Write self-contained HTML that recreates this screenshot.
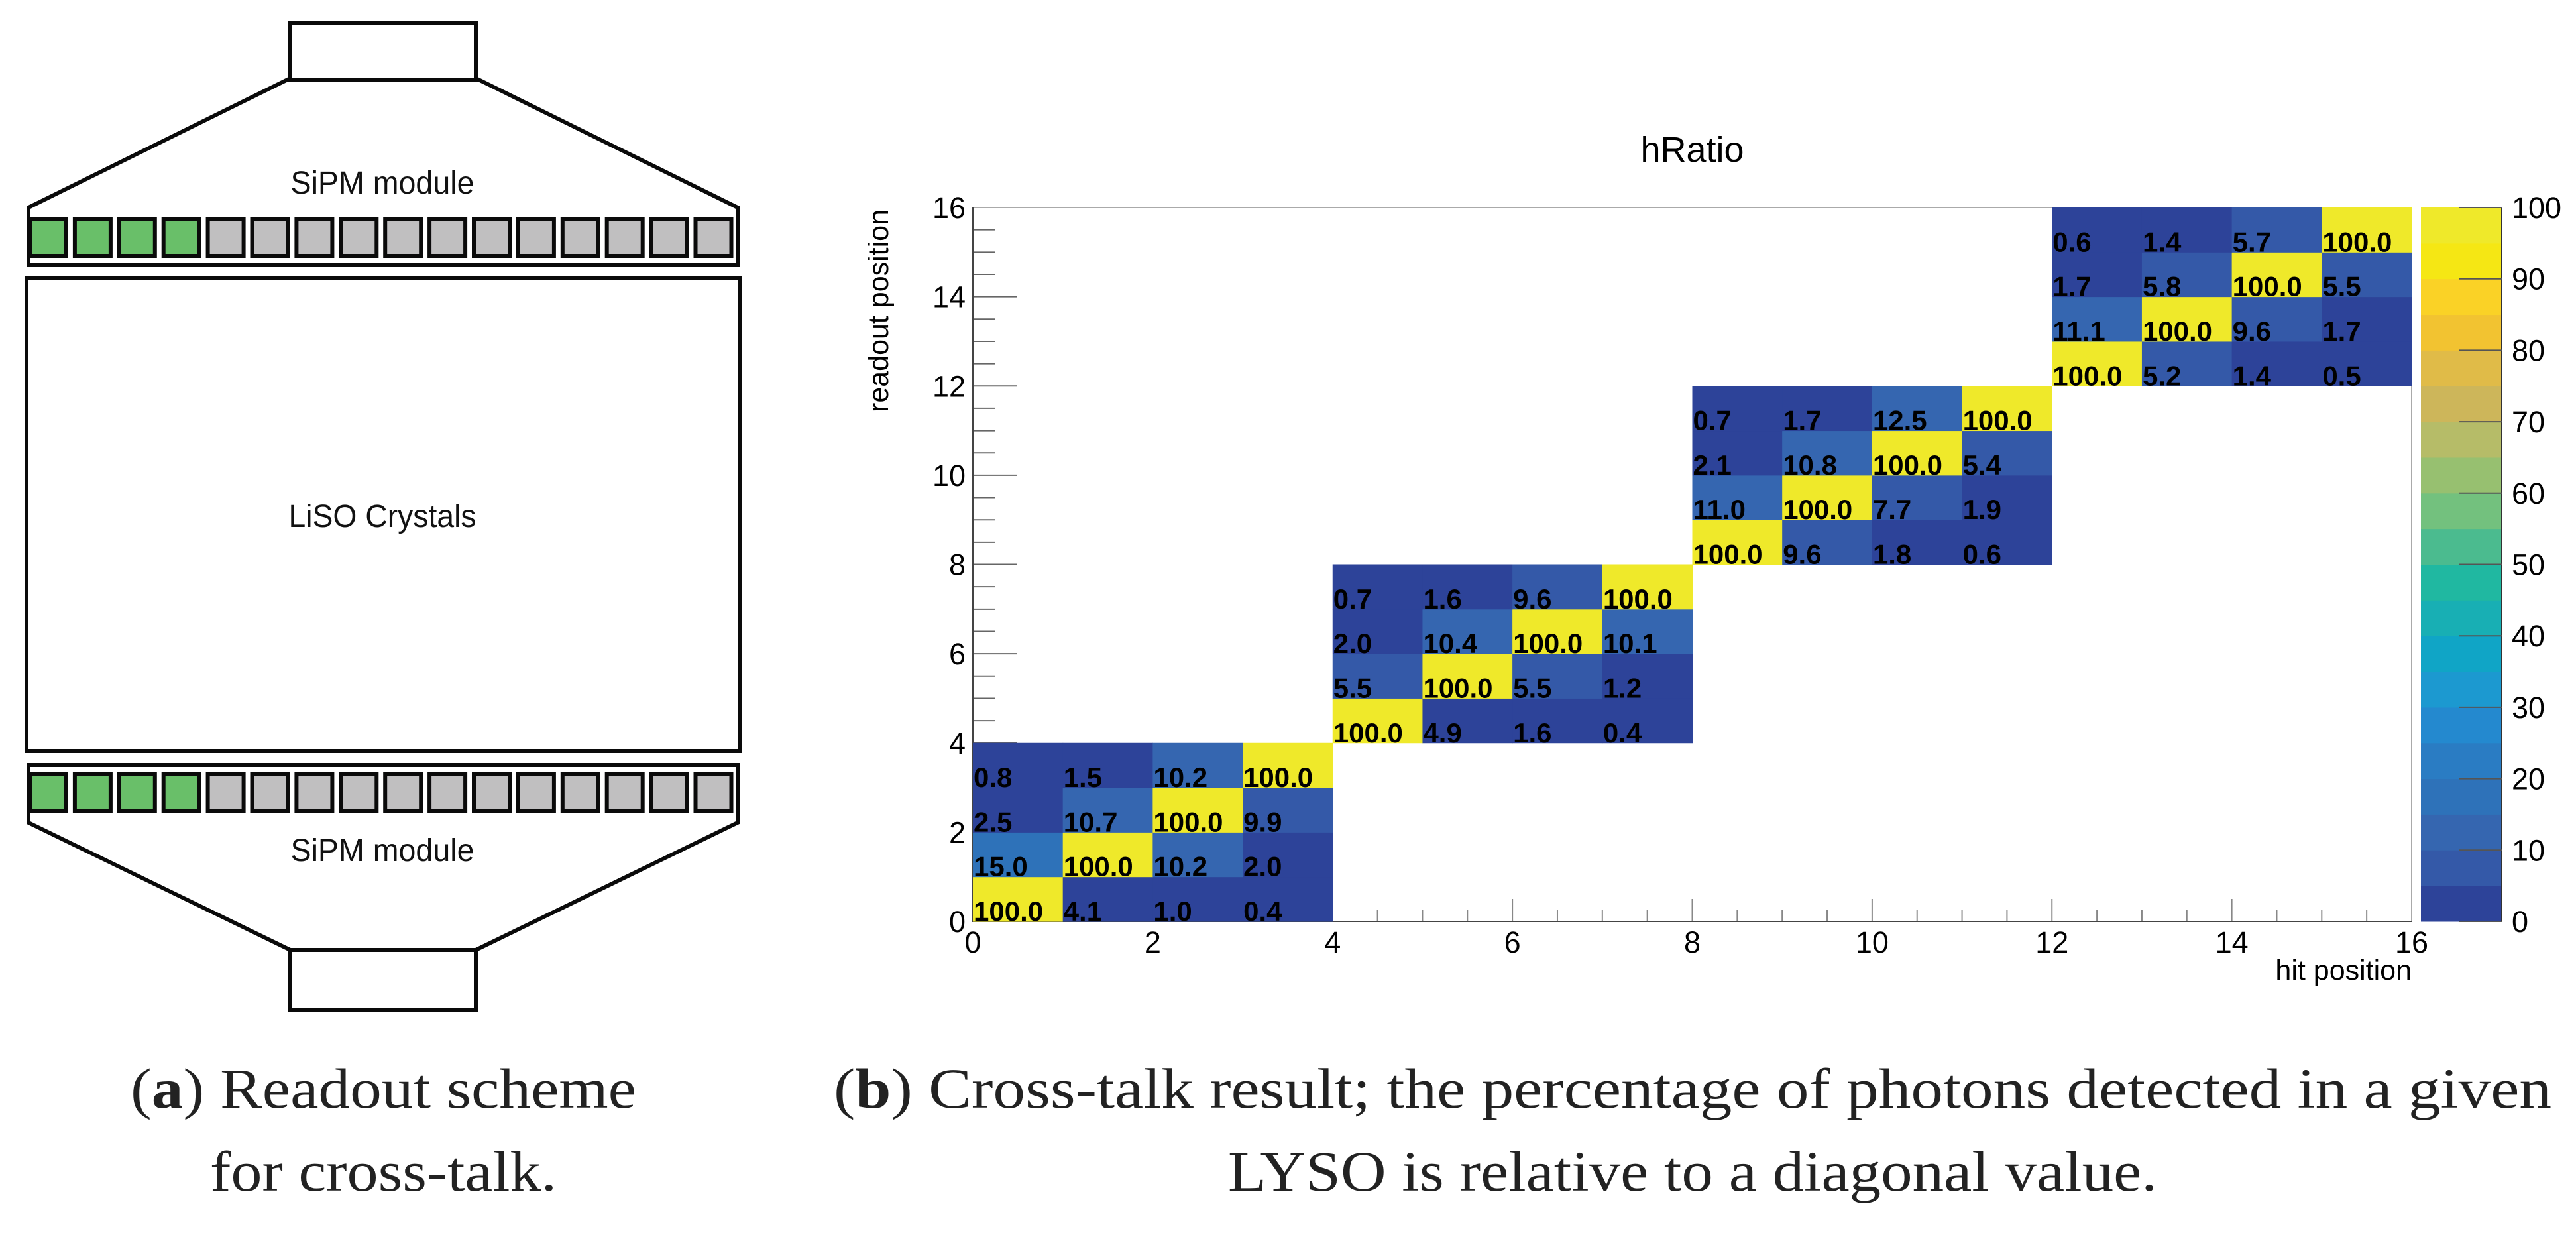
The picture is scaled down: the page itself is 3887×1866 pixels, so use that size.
<!DOCTYPE html>
<html><head><meta charset="utf-8"><style>
html,body{margin:0;padding:0;background:#fff;}
svg{display:block;}
</style></head><body>
<svg id="fig" width="3887" height="1866" viewBox="0 0 3887 1866" xmlns="http://www.w3.org/2000/svg">
<rect x="0" y="0" width="3887" height="1866" fill="#fff"/>
<g fill="none" stroke="#0a0a0a" stroke-width="6">
  <rect x="438" y="34" width="280" height="86"/>
  <polyline points="438,118 43,313 43,400 1113,400 1113,313 718,118"/>
  <g id="topSquares"></g>
  <rect x="40" y="419" width="1077" height="714"/>
  <polyline points="438,1433 43,1241 43,1154 1113,1154 1113,1241 718,1433"/>
  <g id="botSquares"></g>
  <rect x="438" y="1433" width="280" height="90"/>
</g>
<g font-family="Liberation Sans, sans-serif" fill="#111" font-size="48">
  <text x="577" y="292" text-anchor="middle" textLength="277" lengthAdjust="spacingAndGlyphs">SiPM module</text>
  <text x="577" y="795" text-anchor="middle" textLength="283" lengthAdjust="spacingAndGlyphs">LiSO Crystals</text>
  <text x="577" y="1299" text-anchor="middle" textLength="277" lengthAdjust="spacingAndGlyphs">SiPM module</text>
</g>
<g font-family="Liberation Serif, serif" fill="#222" font-size="86">
  <text x="197" y="1671" textLength="763" lengthAdjust="spacingAndGlyphs">(<tspan font-weight="bold">a</tspan>) Readout scheme</text>
  <text x="317" y="1796" textLength="523" lengthAdjust="spacingAndGlyphs">for cross-talk.</text>
  <text x="1258" y="1671" textLength="2592" lengthAdjust="spacingAndGlyphs">(<tspan font-weight="bold">b</tspan>) Cross-talk result; the percentage of photons detected in a given</text>
  <text x="1853" y="1796" textLength="1402" lengthAdjust="spacingAndGlyphs">LYSO is relative to a diagonal value.</text>
</g>
<g id="chart"></g>
</svg>
<script>
// ---- data ----
const xCats = [0,1,2,3,4,5,6,7,8,9,10,11,12,13,14,15];
const xTicks = [0,2,4,6,8,10,12,14,16];
const yTicks = [0,2,4,6,8,10,12,14,16];
const zTicks = [0,10,20,30,40,50,60,70,80,90,100];
// each block: rows listed from bottom (local row 0) to top (local row 3)
const block0 = [[100.0,4.1,1.0,0.4],[15.0,100.0,10.2,2.0],[2.5,10.7,100.0,9.9],[0.8,1.5,10.2,100.0]];
const block1 = [[100.0,4.9,1.6,0.4],[5.5,100.0,5.5,1.2],[2.0,10.4,100.0,10.1],[0.7,1.6,9.6,100.0]];
const block2 = [[100.0,9.6,1.8,0.6],[11.0,100.0,7.7,1.9],[2.1,10.8,100.0,5.4],[0.7,1.7,12.5,100.0]];
const block3 = [[100.0,5.2,1.4,0.5],[11.1,100.0,9.6,1.7],[1.7,5.8,100.0,5.5],[0.6,1.4,5.7,100.0]];
const blocks = [block0, block1, block2, block3];
const palette = ['#2d4399','#3459a8','#3566b0','#2e72b9','#2a7cc3','#2489cf','#1c99d0','#10a5c6','#18afb4','#20b8a1','#4bbb8f','#73c17e','#97c070','#b6bc68','#cdb65a','#e0bb48','#f2c331','#fad226','#f5e714','#efe92a'];

const NS = 'http://www.w3.org/2000/svg';
function mk(tag, attrs, parent){const e=document.createElementNS(NS,tag);for(const k in attrs)e.setAttribute(k,attrs[k]);parent.appendChild(e);return e;}

['topSquares','botSquares'].forEach((id,k)=>{
  const g=document.getElementById(id);
  const y = k===0 ? 330 : 1168;
  for(let i=0;i<16;i++){
    const r=mk('rect',{x:46+i*66.9,y:y,width:54,height:56,fill:i<4?'#69bf69':'#c0bfc0'},g);
    
    
  }
});

const X0=1468, X1=3639, Y0=1390, Y1=313;
const xs = v => X0 + (X1-X0)*v/16;
const ys = v => Y0 - (Y0-Y1)*v/16;
const zs = v => Y0 - (Y0-Y1)*v/100;
const ch = document.getElementById('chart');

for(let t=0;t<=32;t++){
  const v=t/2, major=(t%4===0);
  const a=mk('line',{x1:X0,x2:X0+(major?66:33),y1:ys(v),y2:ys(v),stroke:'#666','stroke-width':2},ch);
  
  
  const b=mk('line',{x1:xs(v),x2:xs(v),y1:Y0,y2:Y0-(major?34:17),stroke:'#888','stroke-width':2},ch);
  
  
}
const fr=mk('path',{d:`M${X0} ${Y1}H${X1}V${Y0}`,fill:'none',stroke:'#aaa','stroke-width':2},ch);


const ax=mk('path',{d:`M${X0} ${Y1}V${Y0}H${X1}`,fill:'none',stroke:'#444','stroke-width':2},ch);



const cw = xs(1)-xs(0), chh = ys(0)-ys(1);
blocks.forEach((blk,b)=>{
  blk.forEach((row,r)=>{
    row.forEach((val,c)=>{
      const xi=4*b+c, yi=4*b+r;
      const bin=Math.min(19,Math.floor(val/5));
      const cell=mk('rect',{x:xs(xi),y:ys(yi+1),width:cw+0.5,height:chh+0.5,fill:palette[bin]},ch);
      
      
    });
  });
});
blocks.forEach((blk,b)=>{
  blk.forEach((row,r)=>{
    row.forEach((val,c)=>{
      const xi=4*b+c, yi=4*b+r;
      const t=mk('text',{x:xs(xi)+1,y:ys(yi)-1,'font-family':'Liberation Sans, sans-serif','font-weight':'bold','font-size':42,fill:'#000'},ch);
      t.textContent=val.toFixed(1);
      
      
    });
  });
});

xTicks.forEach(v=>{
  const t=mk('text',{x:xs(v),y:1437,'text-anchor':'middle','font-family':'Liberation Sans, sans-serif','font-size':45,fill:'#000'},ch);
  t.textContent=v;
  
  
});
yTicks.forEach(v=>{
  const t=mk('text',{x:1457,y:ys(v)+16,'text-anchor':'end','font-family':'Liberation Sans, sans-serif','font-size':45,fill:'#000'},ch);
  t.textContent=v;
  
  
});

const PX0=3653, PX1=3775;
palette.forEach((col,i)=>{
  const r=mk('rect',{x:PX0,y:zs((i+1)*5),width:PX1-PX0,height:zs(0)-zs(5)+0.5,fill:col},ch);
  
  
});
const pl=mk('line',{x1:PX1,x2:PX1,y1:Y1,y2:Y0,stroke:'#333','stroke-width':2},ch);


zTicks.forEach(v=>{
  const l=mk('line',{x1:PX1-65,x2:PX1,y1:zs(v),y2:zs(v),stroke:'#555','stroke-width':2},ch);
  
  
  const t=mk('text',{x:3790,y:zs(v)+16,'font-family':'Liberation Sans, sans-serif','font-size':45,fill:'#000'},ch);
  t.textContent=v;
  
  
});

const tt=mk('text',{x:(X0+X1)/2,y:244,'text-anchor':'middle','font-family':'Liberation Sans, sans-serif','font-size':54,fill:'#000'},ch);
tt.textContent='hRatio';


const xt=mk('text',{x:X1,y:1478,'text-anchor':'end','font-family':'Liberation Sans, sans-serif','font-size':43,fill:'#000'},ch);
xt.textContent='hit position';


const yt=mk('text',{x:0,y:0,'text-anchor':'end','font-family':'Liberation Sans, sans-serif','font-size':43,fill:'#000',transform:'translate(1340,316) rotate(-90)'},ch);
yt.textContent='readout position';


</script>
</body></html>
